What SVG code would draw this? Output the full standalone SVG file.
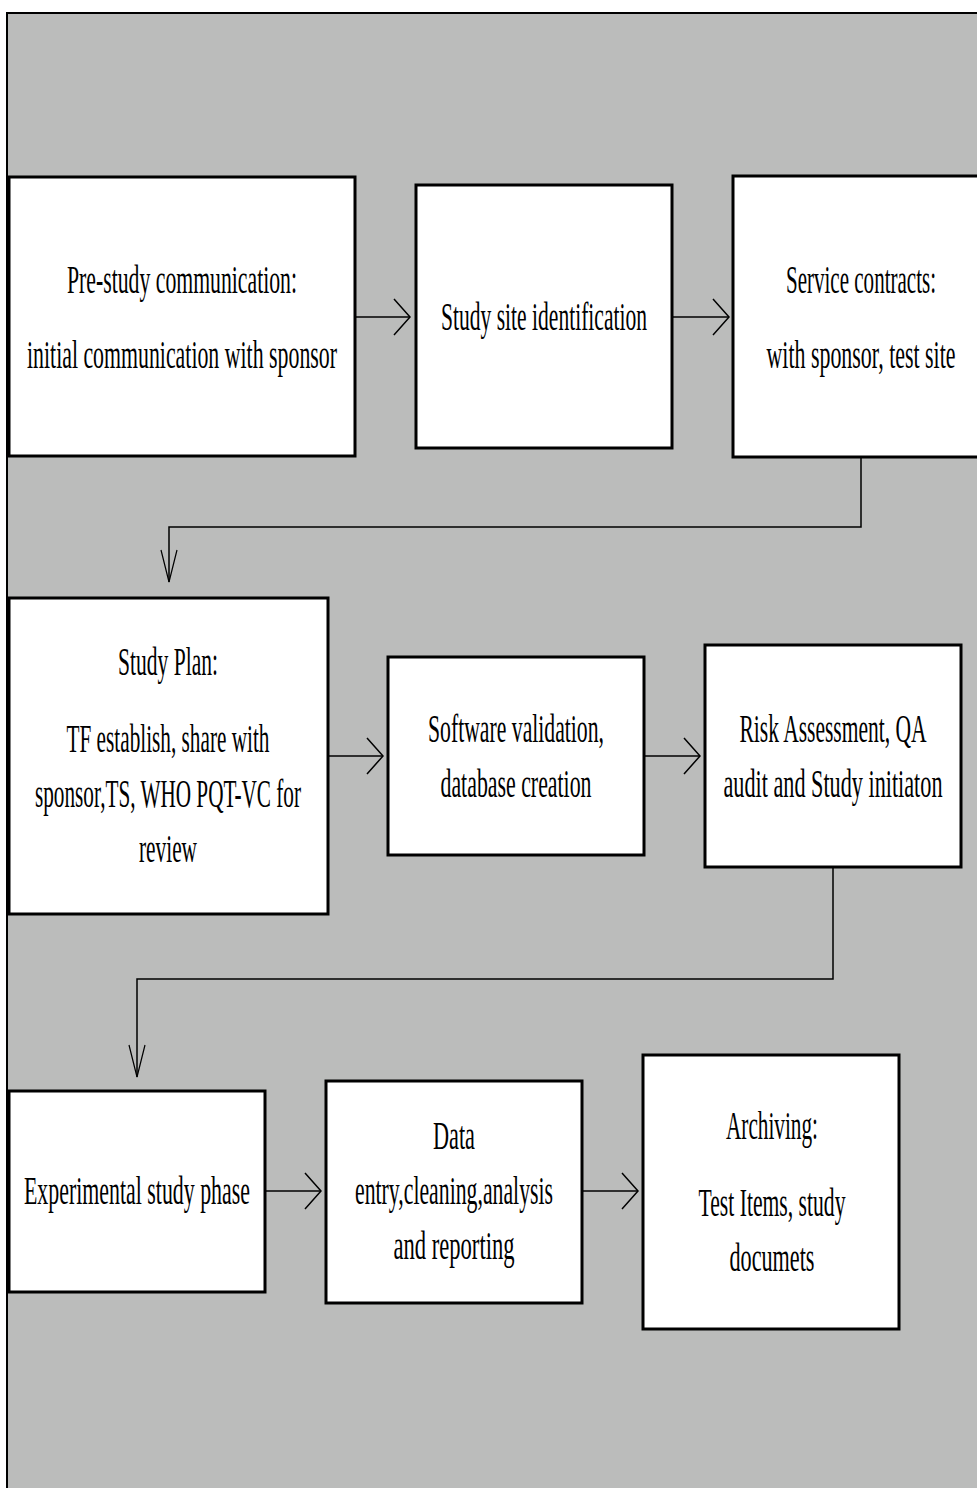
<svg xmlns="http://www.w3.org/2000/svg" width="977" height="1488" viewBox="0 0 977 1488">
<defs>
<style>
.bg{fill:#bbbcbb;stroke:#000;stroke-width:2}
.box{fill:#fff;stroke:#000;stroke-width:3}
.t{font-family:"Liberation Serif",serif;font-size:39px;fill:#000;text-anchor:middle}
.c{fill:none;stroke:#000;stroke-width:1.5}
</style>
<marker id="ah" viewBox="0 0 18 38" refX="17" refY="19" markerWidth="18" markerHeight="38" markerUnits="userSpaceOnUse" orient="auto">
<path d="M1,1 L17,19 L1,37" fill="none" stroke="#000" stroke-width="1.5"/>
</marker>
<marker id="ad" viewBox="0 0 34 18" refX="33" refY="9" markerWidth="34" markerHeight="18" markerUnits="userSpaceOnUse" orient="auto">
<path d="M1,1 L33,9 L1,17" fill="none" stroke="#000" stroke-width="1.2"/>
</marker>
</defs>
<rect class="bg" x="7" y="13" width="980" height="1490"/>
<g id="connectors">
<line class="c" x1="356" y1="317" x2="410" y2="317" marker-end="url(#ah)"/>
<line class="c" x1="673" y1="317" x2="729" y2="317" marker-end="url(#ah)"/>
<polyline class="c" points="861,458 861,527 169,527 169,582" marker-end="url(#ad)"/>
<line class="c" x1="329" y1="756" x2="383" y2="756" marker-end="url(#ah)"/>
<line class="c" x1="645" y1="756" x2="700" y2="756" marker-end="url(#ah)"/>
<polyline class="c" points="833,868 833,979 137,979 137,1077" marker-end="url(#ad)"/>
<line class="c" x1="266" y1="1191" x2="321" y2="1191" marker-end="url(#ah)"/>
<line class="c" x1="583" y1="1191" x2="638" y2="1191" marker-end="url(#ah)"/>
</g>
<g id="n1">
<rect class="box" x="9" y="177" width="346" height="279"/>
<text class="t" x="182" y="293" textLength="230" lengthAdjust="spacingAndGlyphs">Pre-study communication:</text>
<text class="t" x="182" y="368" textLength="310" lengthAdjust="spacingAndGlyphs">initial communication with sponsor</text>
</g>
<g id="n2">
<rect class="box" x="416" y="185" width="256" height="263"/>
<text class="t" x="544" y="330" textLength="206" lengthAdjust="spacingAndGlyphs">Study site identification</text>
</g>
<g id="n3">
<rect class="box" x="733" y="176" width="260" height="281"/>
<text class="t" x="861" y="293" textLength="150" lengthAdjust="spacingAndGlyphs">Service contracts:</text>
<text class="t" x="861" y="368" textLength="189" lengthAdjust="spacingAndGlyphs">with sponsor, test site</text>
</g>
<g id="n4">
<rect class="box" x="9" y="598" width="319" height="316"/>
<text class="t" x="168" y="675" textLength="100" lengthAdjust="spacingAndGlyphs">Study Plan:</text>
<text class="t" x="168" y="752" textLength="203" lengthAdjust="spacingAndGlyphs">TF establish, share with</text>
<text class="t" x="168" y="807" textLength="266" lengthAdjust="spacingAndGlyphs">sponsor,TS, WHO PQT-VC for</text>
<text class="t" x="168" y="862" textLength="58" lengthAdjust="spacingAndGlyphs">review</text>
</g>
<g id="n5">
<rect class="box" x="388" y="657" width="256" height="198"/>
<text class="t" x="516" y="742" textLength="176" lengthAdjust="spacingAndGlyphs">Software validation,</text>
<text class="t" x="516" y="797" textLength="151" lengthAdjust="spacingAndGlyphs">database creation</text>
</g>
<g id="n6">
<rect class="box" x="705" y="645" width="256" height="222"/>
<text class="t" x="833" y="742" textLength="187" lengthAdjust="spacingAndGlyphs">Risk Assessment, QA</text>
<text class="t" x="833" y="797" textLength="219" lengthAdjust="spacingAndGlyphs">audit and Study initiaton</text>
</g>
<g id="n7">
<rect class="box" x="9" y="1091" width="256" height="201"/>
<text class="t" x="137" y="1204" textLength="226" lengthAdjust="spacingAndGlyphs">Experimental study phase</text>
</g>
<g id="n8">
<rect class="box" x="326" y="1081" width="256" height="222"/>
<text class="t" x="454" y="1149" textLength="42" lengthAdjust="spacingAndGlyphs">Data</text>
<text class="t" x="454" y="1204" textLength="198" lengthAdjust="spacingAndGlyphs">entry,cleaning,analysis</text>
<text class="t" x="454" y="1259" textLength="121" lengthAdjust="spacingAndGlyphs">and reporting</text>
</g>
<g id="n9">
<rect class="box" x="643" y="1055" width="256" height="274"/>
<text class="t" x="772" y="1139" textLength="92" lengthAdjust="spacingAndGlyphs">Archiving:</text>
<text class="t" x="772" y="1216" textLength="147" lengthAdjust="spacingAndGlyphs">Test Items, study</text>
<text class="t" x="772" y="1271" textLength="85" lengthAdjust="spacingAndGlyphs">documets</text>
</g>
</svg>
